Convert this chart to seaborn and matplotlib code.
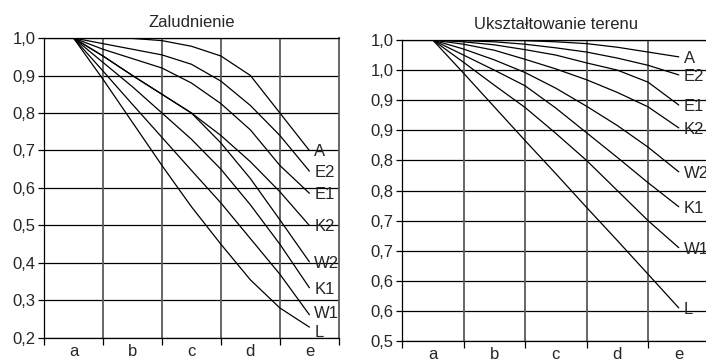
import numpy as np
import pandas as pd
import seaborn as sns
import matplotlib.pyplot as plt

# positions along the a..e axis (half steps)
steps = [0, 0.5, 1, 1.5, 2, 2.5, 3, 3.5, 4]
categories = ['a', 'b', 'c', 'd', 'e']
series_names = ['A', 'E2', 'E1', 'K2', 'W2', 'K1', 'W1', 'L']

# Zaludnienie
pop_A = [1.0, 1.0, 0.999, 0.993, 0.978, 0.952, 0.90, 0.80, 0.70]
pop_E2 = [1.0, 0.985, 0.97, 0.955, 0.93, 0.885, 0.82, 0.74, 0.645]
pop_E1 = [1.0, 0.97, 0.945, 0.92, 0.88, 0.825, 0.755, 0.66, 0.586]
pop_K2 = [1.0, 0.952, 0.90, 0.85, 0.80, 0.74, 0.67, 0.59, 0.50]
pop_W2 = [1.0, 0.952, 0.90, 0.85, 0.80, 0.72, 0.625, 0.515, 0.403]
pop_K1 = [1.0, 0.935, 0.87, 0.80, 0.73, 0.65, 0.555, 0.45, 0.334]
pop_W1 = [1.0, 0.912, 0.823, 0.735, 0.647, 0.56, 0.465, 0.37, 0.262]
pop_L = [1.0, 0.89, 0.775, 0.66, 0.55, 0.45, 0.355, 0.28, 0.229]

# Ukształtowanie terenu
ter_A = [1.0, 1.0, 1.0, 0.999, 0.997, 0.994, 0.988, 0.98, 0.972]
ter_E2 = [1.0, 0.999, 0.997, 0.993, 0.987, 0.98, 0.97, 0.958, 0.942]
ter_E1 = [1.0, 0.997, 0.992, 0.984, 0.975, 0.962, 0.95, 0.93, 0.892]
ter_K2 = [1.0, 0.993, 0.983, 0.968, 0.952, 0.934, 0.913, 0.889, 0.854]
ter_W2 = [1.0, 0.985, 0.967, 0.946, 0.92, 0.89, 0.858, 0.822, 0.781]
ter_K1 = [1.0, 0.975, 0.95, 0.924, 0.887, 0.846, 0.805, 0.763, 0.723]
ter_W1 = [1.0, 0.963, 0.925, 0.888, 0.845, 0.80, 0.75, 0.70, 0.655]
ter_L = [1.0, 0.945, 0.889, 0.833, 0.778, 0.722, 0.667, 0.611, 0.555]

pop_ticks = [0.2, 0.3, 0.4, 0.5, 0.6, 0.7, 0.8, 0.9, 1.0]
pop_tick_labels = ['0,2', '0,3', '0,4', '0,5', '0,6', '0,7', '0,8', '0,9', '1,0']
ter_ticks = [0.5, 0.55, 0.6, 0.65, 0.7, 0.75, 0.8, 0.85, 0.9, 0.95, 1.0]
ter_tick_labels = ['0,5', '0,6', '0,6', '0,7', '0,7', '0,8', '0,8', '0,9', '0,9', '1,0', '1,0']

pop = [pop_A, pop_E2, pop_E1, pop_K2, pop_W2, pop_K1, pop_W1, pop_L]
ter = [ter_A, ter_E2, ter_E1, ter_K2, ter_W2, ter_K1, ter_W1, ter_L]

sns.set_style('white')
plt.rcParams['font.family'] = ['Liberation Sans', 'DejaVu Sans']
FS = 12

fig = plt.figure(figsize=(7.06, 3.63), dpi=100)
ax1 = fig.add_axes([0.0623, 0.0689, 0.4177, 0.8264])
ax2 = fig.add_axes([0.5694, 0.0606, 0.4356, 0.8292])


def draw_panel(ax, series, title, ticks, tick_labels, label_shift):
    df = pd.DataFrame({
        'pos': steps * len(series),
        'val': [v for s in series for v in s],
        'name': [n for n in series_names for _ in steps],
    })
    sns.lineplot(data=df, x='pos', y='val', units='name', estimator=None,
                 color='black', lw=0.9, legend=False, ax=ax, zorder=3)
    for name, s in zip(series_names, series):
        ax.annotate(name, (steps[-1], s[-1]), xytext=(3.5, label_shift.get(name, -1)),
                    textcoords='offset points', ha='left', va='center',
                    fontsize=FS, annotation_clip=False)

    ax.set_xlim(-0.5, 4.5)
    ax.set_ylim(ticks[0], ticks[-1])
    ax.set_xticks([-0.5, 0.5, 1.5, 2.5, 3.5, 4.5])
    ax.set_xticklabels([])
    ax.set_xticks(range(5), minor=True)
    ax.set_xticklabels(categories, minor=True, fontsize=FS)
    ax.tick_params(axis='x', which='major', direction='out', length=5,
                   width=0.9, color='black', bottom=True)
    ax.tick_params(axis='x', which='minor', length=0, pad=4)
    ax.set_yticks(ticks)
    ax.set_yticklabels(tick_labels, fontsize=FS)
    ax.tick_params(axis='y', direction='out', length=4, width=0.9,
                   color='black', left=True, pad=2)
    ax.set_xlabel('')
    ax.set_ylabel('')

    for y in ticks:
        ax.axhline(y, color='black', lw=0.9, zorder=1)
    for x in [0.5, 1.5, 2.5, 3.5]:
        ax.axvline(x, color='#5a5a5a', lw=1.3, zorder=1)

    for side in ['left', 'bottom', 'top']:
        ax.spines[side].set_color('black')
        ax.spines[side].set_linewidth(0.9)
    ax.spines['right'].set_color('#5a5a5a')
    ax.spines['right'].set_linewidth(1.3)
    ax.set_title(title, fontsize=FS, pad=8)


draw_panel(ax1, pop, 'Zaludnienie', pop_ticks, pop_tick_labels,
           {'W1': 1, 'L': -4})
draw_panel(ax2, ter, 'Ukształtowanie terenu', ter_ticks, ter_tick_labels, {})

fig.savefig('out.png', dpi=100)
